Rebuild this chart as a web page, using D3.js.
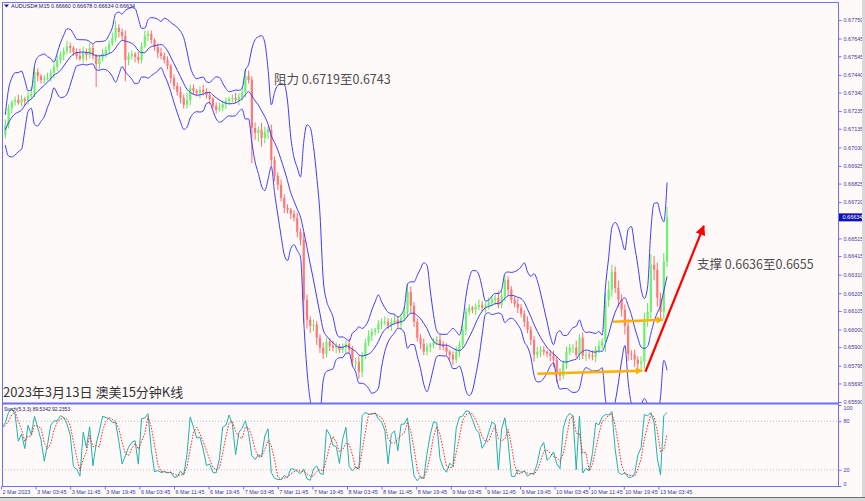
<!DOCTYPE html>
<html><head><meta charset="utf-8">
<script src="https://cdn.jsdelivr.net/npm/d3@7"></script>
<style>body{margin:0;background:#fffafa;}svg{display:block}</style>
</head><body><svg id="c" width="865" height="501"></svg>
<script>
// ---- data (AUDUSD M15, aggregated 3 x M15 per candle) ----
const firstOpen = 0.67080;
const closes = [
0.67100,0.67157,0.67253,0.67287,0.67298,0.67281,0.67304,0.67292,0.67321,0.67332,
0.67456,0.67434,0.67411,0.67417,0.67422,0.67451,0.67484,0.67524,0.67552,0.67575,
0.67603,0.67592,0.67569,0.67547,0.67530,0.67569,0.67552,0.67592,0.67547,0.67501,
0.67535,0.67558,0.67581,0.67614,0.67648,0.67705,0.67682,0.67660,0.67524,0.67547,
0.67558,0.67541,0.67524,0.67603,0.67660,0.67671,0.67637,0.67597,0.67564,0.67547,
0.67524,0.67490,0.67422,0.67377,0.67343,0.67309,0.67270,0.67298,0.67366,0.67349,
0.67338,0.67355,0.67343,0.67326,0.67304,0.67264,0.67242,0.67253,0.67275,0.67292,
0.67304,0.67309,0.67298,0.67315,0.67343,0.67434,0.67411,0.67140,0.67112,0.67129,
0.67083,0.67117,0.67129,0.66959,0.66869,0.66818,0.66744,0.66688,0.66677,0.66654,
0.66631,0.66552,0.66507,0.66168,0.66055,0.66021,0.66027,0.65953,0.65897,0.65863,
0.65931,0.65908,0.65897,0.65908,0.65886,0.65902,0.65919,0.65886,0.65818,0.65818,
0.65761,0.65852,0.65925,0.65965,0.65987,0.65999,0.66032,0.66044,0.66044,0.66021,
0.66044,0.66055,0.66032,0.66066,0.66100,0.66213,0.66134,0.66044,0.65953,0.65919,
0.65874,0.65902,0.65914,0.65931,0.65942,0.65914,0.65902,0.65874,0.65857,0.65829,
0.65874,0.65914,0.65999,0.66100,0.66123,0.66112,0.66128,0.66140,0.66123,0.66134,
0.66151,0.66168,0.66179,0.66140,0.66191,0.66281,0.66225,0.66168,0.66145,0.66123,
0.66089,0.66044,0.65999,0.65942,0.65857,0.65874,0.65886,0.65874,0.65863,0.65852,
0.65829,0.65750,0.65739,0.65806,0.65874,0.65897,0.65897,0.65857,0.65953,0.65852,
0.65857,0.65852,0.65846,0.65886,0.65908,0.65931,0.66168,0.66225,0.66326,0.66236,
0.66168,0.66112,0.66021,0.65863,0.65857,0.65829,0.65806,0.65818,0.66055,0.66100,
0.66366,0.66338,0.66179,0.66100,0.66383,0.66634];
// wick lengths in pips above / below the candle body
const upWick = [
2,3,2,1,2,3,2,1,2,4,3,2,1,2,3,2,2,3,2,2,
3,2,1,2,4,3,2,3,2,1,2,3,2,2,3,4,2,2,3,2,
2,1,3,2,3,2,2,1,2,3,2,2,1,2,2,3,2,4,2,2,
1,2,3,2,2,1,2,3,2,2,1,2,3,2,3,4,3,2,3,2,
4,3,2,3,2,2,3,2,2,1,2,3,2,4,3,2,3,2,2,3,
2,2,3,2,1,2,2,3,2,2,3,2,2,3,2,1,2,2,3,2,
2,3,2,2,3,4,3,2,2,2,3,2,1,2,2,3,2,2,1,2,
3,2,3,2,2,1,2,3,2,2,3,2,2,4,3,3,2,2,2,3,
2,2,3,2,2,3,2,2,1,2,3,2,3,2,3,2,2,4,2,3,
2,2,3,2,3,2,4,5,4,3,4,3,3,4,2,3,2,3,4,5,
6,5,4,3,5,6];
const dnWick = [
3,2,2,3,2,1,2,3,2,2,2,3,2,2,1,2,3,2,2,3,
2,3,2,2,1,2,3,2,2,13,3,2,2,2,1,2,3,2,12,3,
2,3,2,2,1,3,2,2,3,2,2,2,3,2,2,3,2,2,3,2,
2,3,2,2,3,2,2,1,2,3,2,2,2,3,2,3,2,20,4,5,
5,3,4,4,3,3,2,3,2,3,2,3,3,13,5,4,3,4,3,3,
2,3,2,3,2,2,3,2,3,4,4,3,2,2,3,2,2,3,2,2,
3,2,2,3,2,3,4,3,2,3,2,2,3,2,2,3,2,2,3,3,
2,3,2,3,2,2,3,2,2,3,2,2,3,2,2,3,3,2,2,3,
2,3,2,3,4,2,3,2,2,3,4,5,3,2,3,2,3,2,3,2,
3,2,2,3,2,2,6,4,4,3,4,4,5,4,3,4,5,3,4,4,
5,6,5,5,4,3];
const barSpan = 3;            // M15 bars per drawn candle
const labelStep = 32;         // M15 bars between time labels (8 hours)
const timeLabels = ["2 Mar 2023","3 Mar 03:45","3 Mar 11:45","3 Mar 19:45","6 Mar 03:45","6 Mar 11:45",
  "6 Mar 19:45","7 Mar 03:45","7 Mar 11:45","7 Mar 19:45","8 Mar 03:45","8 Mar 11:45","8 Mar 19:45",
  "9 Mar 03:45","9 Mar 11:45","9 Mar 19:45","10 Mar 03:45","10 Mar 11:45","10 Mar 19:45","13 Mar 03:45"];
const priceTicks = [0.67750,0.67645,0.67545,0.67440,0.67340,0.67235,0.67135,0.67030,0.66925,0.66825,
  0.66720,0.66515,0.66415,0.66310,0.66205,0.66105,0.66000,0.65900,0.65795,0.65695,0.65590];
const stochTicks = [100,80,20,0];
const stochLevels = [80,20];
const lastPrice = 0.66634;
const headerText = "AUDUSD#,M15  0.66660 0.66678 0.66634 0.66634";
const stochText = "Stoch(5,3,3) 89.5342 92.2353";
const titleText = "2023年3月13日 澳美15分钟K线";
const resistText = "阻力 0.6719至0.6743";
const supportText = "支撑 0.6636至0.6655";
// annotation arrows in data space: M15 index, price
const orangeArrows = [
  {t0:496, p0:0.65750, t1:593, p1:0.65767},
  {t0:566, p0:0.66044, t1:612, p1:0.66055}];
const redArrow = {t0:596, p0:0.65761, t1:650, p1:0.66586};

// ---- layout ----
const W=865, H=501, L=2, R=838, T=2, MB=403, SB=486;
const pip = 0.0001;
const svg = d3.select("#c");
svg.append("rect").attr("width",W).attr("height",H).attr("fill","#fffafa");

const x = d3.scaleLinear().domain([0,labelStep]).range([1,35.6]);
const y = d3.scaleLinear().domain([0.65590,0.67750]).range([402,20]);
const ys = d3.scaleLinear().domain([0,100]).range([486,405]);

const defs = svg.append("defs");
defs.append("clipPath").attr("id","cm").append("rect").attr("x",L).attr("y",T).attr("width",R-L).attr("height",MB-T);
defs.append("clipPath").attr("id","cs").append("rect").attr("x",L).attr("y",MB+1).attr("width",R-L).attr("height",SB-MB-1);
const mk = (id,color,w,h)=>defs.append("marker").attr("id",id).attr("viewBox","0 0 10 10").attr("refX",9).attr("refY",5)
  .attr("markerWidth",w).attr("markerHeight",h).attr("markerUnits","userSpaceOnUse").attr("orient","auto")
  .append("path").attr("d","M0,0L10,5L0,10Z").attr("fill",color);
mk("ao","#ffb000",8,7); mk("ar","#ff0000",11,10);

const bars = closes.map((c,i)=>{
  const o = i===0 ? firstOpen : closes[i-1];
  return {i, o, c, hi: Math.max(o,c)+upWick[i]*pip, lo: Math.min(o,c)-dnWick[i]*pip, t: i*barSpan+1};
});

// Bollinger-style bands on the aggregated candles
const bp = 7, dev = 3;
const bb = bars.slice(1).map(b=>{
  const w = closes.slice(Math.max(0,b.i-bp+1), b.i+1);
  const m = d3.mean(w), sd = Math.sqrt(d3.mean(w, v=>(v-m)*(v-m)));
  return {t:b.t, m, up:m+dev*sd, dn:m-dev*sd};
});

const main = svg.append("g").attr("clip-path","url(#cm)");
const cg = main.append("g");
cg.selectAll("line.w").data(bars).join("line")
  .attr("x1",d=>x(d.t)).attr("x2",d=>x(d.t)).attr("y1",d=>y(d.hi)).attr("y2",d=>y(d.lo))
  .attr("stroke",d=>d.c>=d.o?"#5ee65e":"#ff6a6a").attr("stroke-width",1);
cg.selectAll("rect").data(bars).join("rect")
  .attr("x",d=>x(d.t)-1.1).attr("width",2.2)
  .attr("y",d=>y(Math.max(d.o,d.c))).attr("height",d=>Math.max(1,Math.abs(y(d.o)-y(d.c))))
  .attr("fill",d=>d.c>=d.o?"#6cf26c":"#ff7878");

["up","m","dn"].forEach(k=>{
  main.append("path").datum(bb).attr("fill","none").attr("stroke","#3d3dff").attr("stroke-width",1)
    .attr("d", d3.line().x(d=>x(d.t)).y(d=>y(d[k])).curve(d3.curveMonotoneX));
});

// Stochastic
const kP=3, slow=1, dP=3;
const raw = bars.map((b,i)=>{
  const w = bars.slice(Math.max(0,i-kP+1), i+1);
  const ll = d3.min(w,d=>d.lo), hh = d3.max(w,d=>d.hi);
  return {num:b.c-ll, den:hh-ll};
});
const K = raw.map((r,i)=>{const w=raw.slice(Math.max(0,i-slow+1),i+1); return 100*d3.sum(w,d=>d.num)/d3.sum(w,d=>d.den);});
const D = K.map((k,i)=>d3.mean(K.slice(Math.max(0,i-dP+1),i+1)));
const sg = svg.append("g").attr("clip-path","url(#cs)");
stochLevels.forEach(v=>sg.append("line").attr("x1",L).attr("x2",R).attr("y1",ys(v)).attr("y2",ys(v))
  .attr("stroke","#bdbdbd").attr("stroke-dasharray","1,2"));
sg.append("path").datum(K).attr("fill","none").attr("stroke","#20b2aa").attr("stroke-width",1)
  .attr("d", d3.line().x((d,i)=>x(bars[i].t)).y(d=>ys(d)));
sg.append("path").datum(D).attr("fill","none").attr("stroke","#ff2020").attr("stroke-width",1).attr("stroke-dasharray","1.5,1.5")
  .attr("d", d3.line().x((d,i)=>x(bars[i].t)).y(d=>ys(d)));

// Frames
const fc = "#6f6ff5";
svg.append("rect").attr("x",L+0.5).attr("y",T+0.5).attr("width",R-L).attr("height",SB-T).attr("fill","none").attr("stroke",fc);
svg.append("line").attr("x1",L).attr("x2",R).attr("y1",MB+0.5).attr("y2",MB+0.5).attr("stroke",fc).attr("stroke-width",2);

// Axes
const axFont = "Liberation Sans, Arial, sans-serif";
const axColor = "#3c3c96";
const styleAxis = g=>{ g.select(".domain").remove(); g.selectAll("line").attr("stroke",fc);
  g.selectAll("text").attr("fill",axColor).attr("font-family",axFont).attr("font-size","5.5px"); };
svg.append("g").attr("transform",`translate(${R+0.5},0)`)
  .call(d3.axisRight(y).tickValues(priceTicks).tickSize(3).tickPadding(2).tickFormat(d3.format(".5f")))
  .call(styleAxis);
svg.append("g").attr("transform",`translate(${R+0.5},0)`)
  .call(d3.axisRight(ys).tickValues(stochTicks).tickSize(3).tickPadding(2).tickFormat(d3.format("d")))
  .call(styleAxis).call(g=>g.selectAll(".tick").filter(d=>d===100).select("text").attr("dy","0.9em"))
  .call(g=>g.selectAll(".tick").filter(d=>d===0).select("text").attr("dy","-0.1em"));
const xt = svg.append("g").attr("transform",`translate(0,${SB+0.5})`)
  .call(d3.axisBottom(x).tickValues(timeLabels.map((_,i)=>i*labelStep)).tickSize(3).tickPadding(1)
    .tickFormat((d,i)=>timeLabels[i]))
  .call(styleAxis);
xt.selectAll("text").attr("text-anchor","start").attr("dx","1");

// last price marker
const lp = svg.append("g").attr("transform",`translate(${R+1},${y(lastPrice)})`);
lp.append("rect").attr("x",0).attr("y",-4).attr("width",24).attr("height",8).attr("fill","#1010b8");
lp.append("text").attr("x",3.5).attr("y",2).attr("fill","#fff").attr("font-family",axFont).attr("font-size","5.5px").text(lastPrice.toFixed(5));

// headers
svg.append("path").attr("d","M4,4.5L9,4.5L6.5,7.5Z").attr("fill","#202060");
svg.append("text").attr("x",11).attr("y",8).attr("fill","#202060").attr("font-family",axFont).attr("font-size","5.5px").text(headerText);
svg.append("text").attr("x",4).attr("y",411).attr("fill","#202060").attr("font-family",axFont).attr("font-size","5px").text(stochText);

// annotations
const cjk = "'Noto Sans CJK SC', sans-serif";
svg.append("text").attr("x",274).attr("y",84).attr("fill","#4d4d4d").attr("font-family",cjk).attr("font-size","12.5px").text(resistText);
svg.append("text").attr("x",697).attr("y",269).attr("fill","#4d4d4d").attr("font-family",cjk).attr("font-size","12.5px").text(supportText);
svg.append("text").attr("x",3).attr("y",397).attr("fill","#333").attr("font-family",cjk).attr("font-size","13px").text(titleText);

svg.selectAll("line.oa").data(orangeArrows).join("line").attr("class","oa")
  .attr("x1",d=>x(d.t0)).attr("y1",d=>y(d.p0)).attr("x2",d=>x(d.t1)).attr("y2",d=>y(d.p1))
  .attr("stroke","#ffb000").attr("stroke-width",2.5).attr("marker-end","url(#ao)");
svg.append("line").attr("x1",x(redArrow.t0)).attr("y1",y(redArrow.p0)).attr("x2",x(redArrow.t1)).attr("y2",y(redArrow.p1))
  .attr("stroke","#ff0000").attr("stroke-width",2.2).attr("marker-end","url(#ar)");

// window edges
svg.append("rect").attr("x",862).attr("y",0).attr("width",3).attr("height",H).attr("fill","#d8d8d8");
svg.append("rect").attr("x",0).attr("y",497).attr("width",W).attr("height",4).attr("fill","#d8d8d8");
svg.append("line").attr("x1",0).attr("x2",W).attr("y1",497.5).attr("y2",497.5).attr("stroke","#6e6e6e");
</script></body></html>
